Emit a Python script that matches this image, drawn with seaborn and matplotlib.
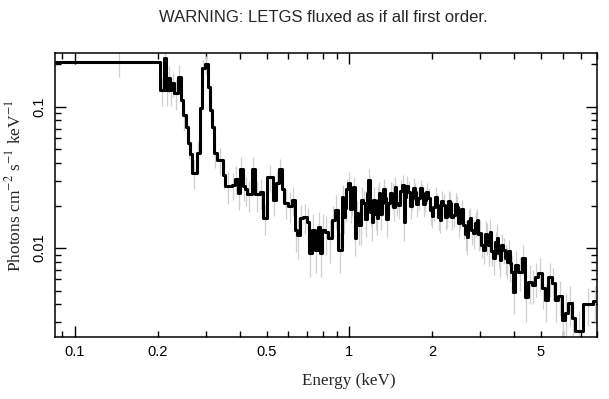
import matplotlib
matplotlib.use("Agg")
import matplotlib.pyplot as plt
import seaborn as sns
import numpy as np

# bin edges (keV) and flux per bin
edges = [0.085, 0.204, 0.211, 0.2145, 0.218, 0.222, 0.226, 0.229, 0.237, 0.243,
         0.247, 0.254, 0.258, 0.262, 0.267, 0.278, 0.285, 0.290, 0.298, 0.305,
         0.310, 0.316, 0.321, 0.329, 0.346, 0.352, 0.373, 0.383, 0.392, 0.399,
         0.409, 0.416, 0.423, 0.441, 0.453, 0.472, 0.484, 0.501, 0.526, 0.540,
         0.554, 0.568, 0.577, 0.597, 0.617, 0.633, 0.644, 0.660, 0.677, 0.700,
         0.712, 0.730, 0.749, 0.768, 0.781, 0.794, 0.814, 0.835, 0.864, 0.886,
         0.908,
         0.939, 0.951, 0.963, 0.975, 0.987, 1.004, 1.021, 1.034, 1.047, 1.056,
         1.065, 1.078, 1.092, 1.106, 1.120, 1.139, 1.158, 1.168, 1.188, 1.208,
         1.218, 1.239, 1.260, 1.270, 1.281, 1.297, 1.313, 1.330, 1.347, 1.364,
         1.381, 1.405, 1.429, 1.447, 1.465, 1.483, 1.502, 1.528, 1.554, 1.580,
         1.593, 1.613, 1.633, 1.661, 1.689, 1.710, 1.732, 1.754, 1.776, 1.806,
         1.837, 1.860, 1.884, 1.908, 1.932, 1.965, 1.998, 2.015, 2.049, 2.083,
         2.109, 2.136, 2.163, 2.191, 2.228, 2.266, 2.294, 2.323, 2.353, 2.383,
         2.423, 2.464, 2.495, 2.527, 2.559, 2.591, 2.635, 2.680, 2.714, 2.748,
         2.783, 2.818, 2.866, 2.914, 2.951, 2.988, 3.026, 3.064, 3.116, 3.169,
         3.209, 3.250, 3.291, 3.333, 3.389, 3.446, 3.490, 3.534, 3.579, 3.624,
         3.686, 3.748, 3.795, 3.843, 3.892,
         3.941, 4.008, 4.110, 4.250, 4.358, 4.470, 4.622, 4.740, 4.861, 5.026,
         5.154, 5.285, 5.466, 5.605, 5.748, 5.943, 6.095, 6.250, 6.464, 6.629,
         7.089, 7.712, 8.0]

flux = [0.207, 0.131, 0.221, 0.131, 0.160, 0.131, 0.147, 0.125, 0.162, 0.112,
        0.087, 0.072, 0.055, 0.046, 0.034, 0.047, 0.098, 0.188, 0.200, 0.138,
        0.095, 0.072, 0.047, 0.042, 0.033, 0.0275, 0.028, 0.031, 0.0245, 0.036,
        0.0275, 0.026, 0.024, 0.036, 0.024, 0.025, 0.0163, 0.032, 0.022, 0.029,
        0.036, 0.026, 0.021, 0.020, 0.022, 0.0134, 0.0124, 0.0163, 0.0166, 0.0153,
        0.0092, 0.0134, 0.0097, 0.0141, 0.0092, 0.0134, 0.0130, 0.0118, 0.0158, 0.0186,
        0.0097,
        0.023, 0.0165, 0.0192, 0.026, 0.0288, 0.019, 0.0219, 0.027, 0.0118, 0.0175,
        0.0177, 0.0145, 0.0146, 0.022, 0.0208, 0.016, 0.0245, 0.0303, 0.018, 0.0153,
        0.0219, 0.0175, 0.0163, 0.022, 0.0245, 0.0175, 0.0208, 0.026, 0.0226, 0.016,
        0.0208, 0.0245, 0.0237, 0.0195, 0.0270, 0.021, 0.0201, 0.0255, 0.0279, 0.0153,
        0.023, 0.0275, 0.0249, 0.020, 0.0226, 0.0265, 0.0249, 0.0205, 0.0226, 0.0265,
        0.0245, 0.0205, 0.0219, 0.025, 0.0226, 0.0185, 0.0168, 0.0195, 0.023, 0.0201,
        0.0165, 0.0158, 0.0215, 0.0201, 0.0165, 0.0168, 0.0215, 0.0208, 0.0165, 0.0171,
        0.0205, 0.0195, 0.015, 0.0166, 0.019, 0.0146, 0.0125, 0.0120, 0.0155, 0.0163,
        0.0135, 0.0128, 0.015, 0.0158, 0.0125, 0.0128, 0.0105, 0.0097, 0.0125, 0.012,
        0.0105, 0.013, 0.0095, 0.0085, 0.011, 0.0118, 0.0092, 0.0082, 0.0105, 0.0097,
        0.0085, 0.008, 0.0095, 0.0078, 0.0068,
        0.0049, 0.0076, 0.0068, 0.0085, 0.0045, 0.0058, 0.0055, 0.0062, 0.0067, 0.0052,
        0.0043, 0.0062, 0.0057, 0.0043, 0.0046, 0.0031, 0.0035, 0.0041, 0.0032, 0.0026,
        0.0040, 0.0042]

flux_err = [0.045, 0.03, 0.04, 0.03, 0.035, 0.03, 0.03, 0.03, 0.035, 0.025,
            0.02, 0.015, 0.012, 0.01, 0.008, 0.01, 0.02, 0.03, 0.03, 0.025,
            0.018, 0.014, 0.01, 0.009, 0.007, 0.007, 0.006, 0.007, 0.006, 0.008,
            0.006, 0.006, 0.006, 0.008, 0.006, 0.006, 0.004, 0.007, 0.005, 0.006,
            0.007, 0.005, 0.005, 0.005, 0.005, 0.004, 0.004, 0.004, 0.004, 0.004,
            0.003, 0.004, 0.003, 0.004, 0.003, 0.004, 0.004, 0.004, 0.004, 0.005,
            0.003,
            0.005, 0.004, 0.004, 0.005, 0.006, 0.004, 0.005, 0.005, 0.003, 0.004,
            0.004, 0.004, 0.004, 0.005, 0.005, 0.004, 0.005, 0.006, 0.004, 0.004,
            0.005, 0.004, 0.004, 0.005, 0.005, 0.004, 0.004, 0.005, 0.005, 0.004,
            0.004, 0.005, 0.005, 0.004, 0.005, 0.004, 0.004, 0.005, 0.005, 0.004,
            0.004, 0.005, 0.005, 0.004, 0.004, 0.005, 0.004, 0.004, 0.004, 0.004,
            0.004, 0.004, 0.004, 0.004, 0.004, 0.004, 0.003, 0.004, 0.004, 0.004,
            0.003, 0.003, 0.004, 0.004, 0.003, 0.003, 0.004, 0.004, 0.003, 0.003,
            0.004, 0.004, 0.003, 0.003, 0.003, 0.003, 0.003, 0.003, 0.003, 0.003,
            0.003, 0.003, 0.003, 0.003, 0.003, 0.003, 0.002, 0.002, 0.003, 0.003,
            0.003, 0.003, 0.002, 0.002, 0.002, 0.003, 0.002, 0.002, 0.002, 0.002,
            0.002, 0.002, 0.002, 0.002, 0.002,
            0.0015, 0.002, 0.0018, 0.002, 0.0015, 0.0018, 0.0015, 0.0017, 0.0018, 0.0015,
            0.0013, 0.0017, 0.0015, 0.0013, 0.0013, 0.0011, 0.0012, 0.0013, 0.0011, 0.001,
            0.0012, 0.0012]

sns.set_style("ticks")
plt.rcParams['font.family'] = ['Liberation Sans', 'DejaVu Sans']
plt.rcParams['mathtext.fontset'] = 'stix'

fig = plt.figure(figsize=(6.09, 3.99), dpi=100)
ax = fig.add_axes([0.0903, 0.1566, 0.8900, 0.7106])

e = np.array(edges)
f = np.array(flux)
err = np.array(flux_err)
centers = 0.5 * (e[:-1] + e[1:])

# light grey error bars behind the spectrum
ax.vlines(centers, f - err, f + err, color="#cfcfcf", linewidth=0.9, zorder=1)

sns.lineplot(x=e, y=np.append(f, f[-1]), drawstyle="steps-post", color="black",
             linewidth=2.2, estimator=None, sort=False, ax=ax, zorder=3)

ax.set_xscale("log")
ax.set_yscale("log")
ax.set_xlim(0.0846, 8.0)
ax.set_ylim(0.00237, 0.24)

ax.set_xticks([0.1, 1])
ax.set_xticklabels(["0.1", "1"])
xminor = [0.09, 0.2, 0.3, 0.4, 0.5, 0.6, 0.7, 0.8, 0.9, 2, 3, 4, 5, 6, 7, 8]
ax.set_xticks(xminor, minor=True)
ax.set_xticklabels(["", "0.2", "", "", "0.5", "", "", "", "", "2", "", "", "5", "", "", ""],
                   minor=True)

ax.set_yticks([0.01, 0.1])
ax.set_yticklabels(["0.01", "0.1"], rotation=90, va="center")
yminor = [0.003, 0.004, 0.005, 0.006, 0.007, 0.008, 0.009,
          0.02, 0.03, 0.04, 0.05, 0.06, 0.07, 0.08, 0.09, 0.2]
ax.set_yticks(yminor, minor=True)
ax.set_yticklabels([""] * len(yminor), minor=True)

ax.tick_params(which="both", direction="in", top=True, right=True, width=1,
               labelsize=10.5, colors="black")
ax.tick_params(which="major", length=8, pad=6)
ax.tick_params(which="minor", length=4, pad=6)
for s in ax.spines.values():
    s.set_linewidth(1.1)
    s.set_color("black")

ax.set_xlabel("Energy (keV)", family="Liberation Serif", fontsize=12.3)
ax.xaxis.set_label_coords(0.542, -0.128)
ax.set_ylabel("Photons cm$^{-2}$ s$^{-1}$ keV$^{-1}$", family="Liberation Serif",
              fontsize=12.5)
ax.yaxis.set_label_coords(-0.056, 0.53)
fig.text(0.531, 0.955, "WARNING: LETGS fluxed as if all first order.",
         ha="center", va="center", fontsize=12)

fig.savefig("out.png", dpi=100)
